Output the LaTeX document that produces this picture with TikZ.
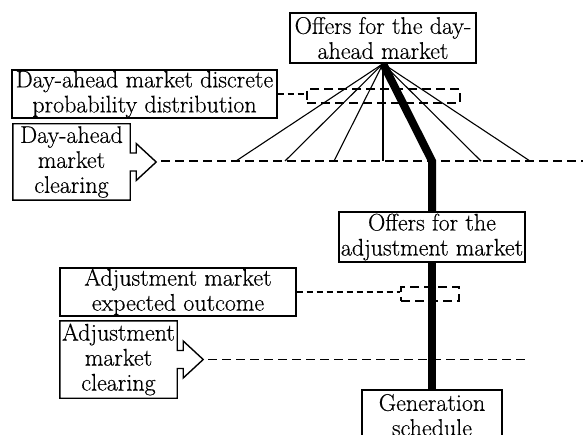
\documentclass[tikz,border=0pt]{standalone}
\usepackage{fontspec}
\setmainfont{Latin Modern Roman}[FakeBold=0.4]
\usetikzlibrary{calc}

% outline of a clearing box with an arrow head on its right side
\newcommand\clearingoutline[1]{%
  \draw[boxline] (#1.north west) -- (#1.north east)
    -- ($(#1.east)+(0,-9)$) -- ++(6,0) -- ++(0,-9.5)
    -- ($(#1.east)+(26,0)$)
    -- ($(#1.east)+(6,18.5)$) -- ++(0,-9.5)
    -- ($(#1.east)+(0,9)$) -- (#1.south east)
    -- (#1.south west) -- cycle;
  \coordinate (#1tip) at ($(#1.east)+(31,0)$);}

\begin{document}
\begin{tikzpicture}[x=1pt,y=-1pt,
  font=\fontsize{24}{25}\selectfont,
  boxline/.style={line width=1.4pt, line join=miter},
  box/.style={draw, boxline, align=center, inner sep=0.5pt},
  bare/.style={align=center, inner sep=0.5pt},
  fanline/.style={line width=1.1pt},
  mainline/.style={line width=8pt, line join=miter},
  hdash/.style={line width=1.8pt, dash pattern=on 9pt off 5pt},
  sdash/.style={line width=1.3pt, dash pattern=on 6pt off 4pt},
  scenario/.style={draw, line width=1.5pt, dash pattern=on 9pt off 5pt,
    inner sep=0pt},
]
\clip (0,0) rectangle (583,435);

% boxes
\node[box, minimum width=186pt, minimum height=50pt] (offda) at (383,38)
  {Offers for the day-\\ahead market};
\node[box, minimum width=265pt, minimum height=48pt] (dadist) at (144.5,94)
  {Day-ahead market discrete\\probability distribution};
\node[bare, minimum width=117pt, minimum height=76pt] (daclr) at (71.5,162)
  {Day-ahead\\market\\clearing};
\node[box, minimum width=186pt, minimum height=50pt] (adjoff) at (432,237)
  {Offers for the\\adjustment market};
\node[box, minimum width=236pt, minimum height=48pt] (adjexp) at (178,292)
  {Adjustment market\\expected outcome};
\node[bare, minimum width=117pt, minimum height=77pt] (adjclr) at (118.5,359.5)
  {Adjustment\\market\\clearing};
\node[box, minimum width=140pt, minimum height=50pt] (gen) at (432,415)
  {Generation\\schedule};

\clearingoutline{daclr}
\clearingoutline{adjclr}

% dashed scenario frames
\node[scenario, minimum width=153pt, minimum height=14pt] (distframe) at (383.5,96) {};
\node[scenario, minimum width=58pt, minimum height=14pt] (expframe) at (430,294) {};

\draw[sdash] (dadist.east) -- (dadist.east -| distframe.west);
\draw[sdash] (adjexp.east) -- (adjexp.east -| expframe.west);

% market clearing lines
\coordinate (daend) at (583,161);
\coordinate (adjend) at (530,359.5);
\draw[hdash] (daclrtip |- daend) -- (daend);
\draw[hdash] (adjclrtip) -- (adjend);

% scenario fan
\foreach \i/\x in {1/236,2/285,3/334,4/383,5/432,6/481,7/530}
  \coordinate (f\i) at (\x,161);
\foreach \i in {1,2,3,4,6,7}
  \draw[fanline] (offda.south) -- (f\i);

% selected path
\draw[mainline] (offda.south) -- (f5) -- (adjoff.north);
\draw[mainline] (adjoff.south) -- (gen.north);
\end{tikzpicture}
\end{document}
